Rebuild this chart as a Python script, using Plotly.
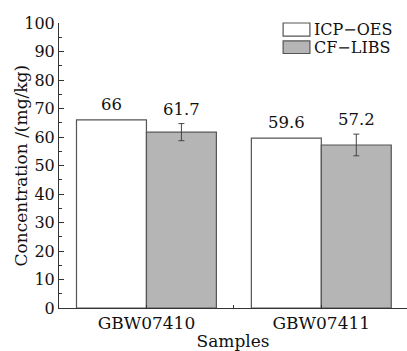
import plotly.graph_objects as go

samples = ["GBW07410", "GBW07411"]
sample_pos = [1, 2]
icp_oes = [66, 59.6]
cf_libs = [61.7, 57.2]
cf_libs_err = [3.0, 3.8]
icp_labels = ["66", "59.6"]
cf_labels = ["61.7", "57.2"]
y_ticks = list(range(0, 101, 10))

FONT = "DejaVu Serif"
EDGE = "#555555"

fig = go.Figure()
fig.add_trace(go.Bar(
    x=sample_pos, y=icp_oes, name="ICP−OES",
    marker=dict(color="white", line=dict(color=EDGE, width=1.2)),
))
fig.add_trace(go.Bar(
    x=sample_pos, y=cf_libs, name="CF−LIBS",
    marker=dict(color="#b5b5b5", line=dict(color=EDGE, width=1.2)),
    error_y=dict(type="data", array=cf_libs_err, color="#444444", thickness=1, width=3),
))

annos = []
for xi, v, t in zip(sample_pos, icp_oes, icp_labels):
    annos.append(dict(x=xi - 0.2, y=v, text=t, showarrow=False, yanchor="bottom",
                      yshift=4, font=dict(family=FONT, size=16.5, color="#111")))
for xi, v, e, t in zip(sample_pos, cf_libs, cf_libs_err, cf_labels):
    annos.append(dict(x=xi + 0.2, y=v + e, text=t, showarrow=False, yanchor="bottom",
                      yshift=3, font=dict(family=FONT, size=16.5, color="#111")))

# y-axis title
annos.append(dict(xref="paper", yref="paper", x=-0.112, y=0.5, text="Concentration /(mg/kg)",
                  textangle=-90, showarrow=False, xanchor="center", yanchor="middle",
                  font=dict(family=FONT, size=17, color="#111")))

# custom legend
names = ["ICP−OES", "CF−LIBS"]
fills = ["white", "#b5b5b5"]
box_y = [(0.954, 1.0), (0.893, 0.937)]
shapes = []
for n, f, (y0, y1) in zip(names, fills, box_y):
    shapes.append(dict(type="rect", xref="paper", yref="paper", x0=0.644, x1=0.721,
                       y0=y0, y1=y1, fillcolor=f, line=dict(color=EDGE, width=1.2)))
    annos.append(dict(xref="paper", yref="paper", x=0.727, y=(y0 + y1) / 2, text=n,
                      showarrow=False, xanchor="left", yanchor="middle",
                      font=dict(family=FONT, size=16, color="#111")))

fig.update_layout(
    width=407, height=351,
    margin=dict(l=59, r=0, t=23, b=43),
    paper_bgcolor="white", plot_bgcolor="white",
    barmode="group", bargap=0.2, bargroupgap=0,
    showlegend=False,
    font=dict(family=FONT, size=16, color="#111"),
    annotations=annos, shapes=shapes,
    xaxis=dict(
        range=[0.5, 2.49],
        tickmode="array", tickvals=[1, 1.5, 2], ticktext=[samples[0], "", samples[1]],
        ticks="inside", ticklen=3, tickcolor="#333",
        showline=True, linecolor="#333", linewidth=1,
        showgrid=False, zeroline=False,
        tickfont=dict(family=FONT, size=17),
        title=dict(text="Samples", font=dict(family=FONT, size=17), standoff=2),
    ),
    yaxis=dict(
        range=[0, 100], tickvals=y_ticks,
        ticks="inside", ticklen=5, tickcolor="#333",
        minor=dict(dtick=5, ticks="inside", ticklen=3, tickcolor="#333"),
        showline=True, linecolor="#333", linewidth=1,
        showgrid=False, zeroline=False,
        tickfont=dict(family=FONT, size=16),
    ),
)

fig.write_html("out.html")
